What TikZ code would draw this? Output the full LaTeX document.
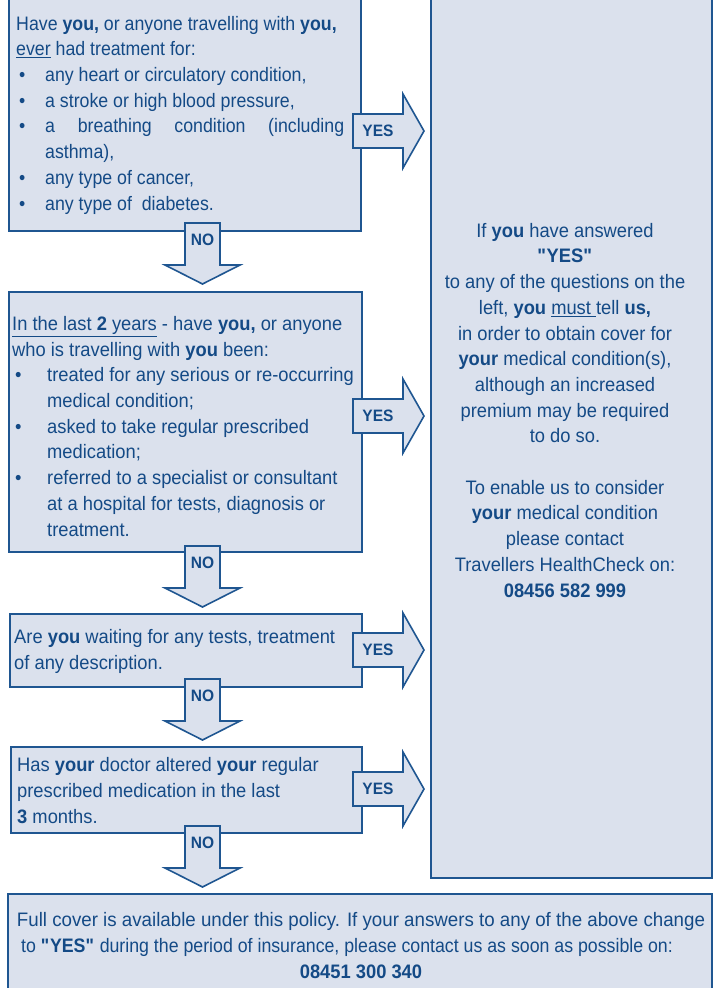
\documentclass[tikz,border=0pt]{standalone}
\usepackage{fontspec}
\setmainfont{Liberation Sans}[FakeStretch=0.94]
\newfontfamily\narrowfont{Liberation Sans}[FakeStretch=0.91]
\newfontfamily\widefont{Liberation Sans}[FakeStretch=0.96]
\usetikzlibrary{positioning}

\definecolor{boxfill}{RGB}{219,225,237}
\definecolor{boxline}{RGB}{31,86,145}
\definecolor{boxtext}{RGB}{20,74,134}

% bullet column of the lists
\newcommand{\bul}[1][29pt]{\makebox[#1][l]{\hspace{3pt}\textbullet}}

\begin{document}
\begin{tikzpicture}[x=1pt, y=-1pt,
    qbox/.style={draw=boxline, fill=boxfill, line width=1.6pt, anchor=north west, inner sep=0pt},
    qtext/.style={anchor=base west, align=left, inner sep=0pt, text=boxtext,
      font=\fontsize{19.5}{25.7}\selectfont},
    ctext/.style={qtext, anchor=base, align=center},
    blockarrow/.style={draw=boxline, fill=boxfill, line width=1.6pt, line join=miter},
    arrowtext/.style={text=boxtext, inner sep=0pt, font=\bfseries\fontsize{16.5}{16.5}\selectfont}]
  \useasboundingbox (0,0) rectangle (718,988);

  % the boxes
  \node[qbox, minimum width=352pt, minimum height=240pt] (q1) at (8,-10) {};
  \node[qbox, minimum width=353pt, minimum height=260pt] (q2) at (8,291) {};
  \node[qbox, minimum width=352pt, minimum height=73pt] (q3) at (9,613) {};
  \node[qbox, minimum width=351pt, minimum height=86pt] (q4) at (10,746) {};
  \node[qbox, minimum width=281pt, minimum height=887pt] (tellus) at (430,-10) {};
  \node[qbox, minimum width=704pt, minimum height=110pt] (cover) at (7,893) {};

  % texts, placed at the baseline of their last line
  \node[qtext, font=\narrowfont\fontsize{19.5}{25.7}\selectfont] (q1text) at (16,210)
    {Have \textbf{you,} or anyone travelling with \textbf{you,}\\
    \underline{ever} had treatment for:\\
    \bul any heart or circulatory condition,\\
    \bul a stroke or high blood pressure,\\
    \bul\makebox[299pt][s]{a breathing condition (including}\\
    \hspace*{29pt}asthma),\\
    \bul any type of cancer,\\
    \bul any type of\ \ diabetes.};

  \node[qtext] (q2text) at (12,536) {\underline{In the last \textbf{2} years} - have \textbf{you,} or anyone\\
    who is travelling with \textbf{you} been:\\
    \bul[35pt]treated for any serious or re-occurring\\
    \hspace*{35pt}medical condition;\\
    \bul[35pt]asked to take regular prescribed\\
    \hspace*{35pt}medication;\\
    \bul[35pt]referred to a specialist or consultant\\
    \hspace*{35pt}at a hospital for tests, diagnosis or\\
    \hspace*{35pt}treatment.};

  \node[qtext] (q3text) at (14,669) {Are \textbf{you} waiting for any tests, treatment\\
    of any description.};

  \node[qtext] (q4text) at (17,823) {Has \textbf{your} doctor altered \textbf{your} regular\\
    prescribed medication in the last\\
    \textbf{3} months.};

  \node[ctext] (tellustext) at (565,597) {If \textbf{you} have answered\\
    \textbf{\textquotedbl YES\textquotedbl}\\
    to any of the questions on the\\
    left, \textbf{you} \underline{must }tell \textbf{us,}\\
    in order to obtain cover for\\
    \textbf{your} medical condition(s),\\
    although an increased\\
    premium may be required\\
    to do so.\\[25.7pt]
    To enable us to consider\\
    \textbf{your} medical condition\\
    please contact\\
    Travellers HealthCheck on:\\
    \textbf{08456 582 999}};

  \node[ctext] (covertext) at (361,978) {{\widefont Full cover is available under this policy. If your answers to any of the above change}\\
    {\narrowfont to \textbf{\textquotedbl YES\textquotedbl} during the period of insurance, please contact us as soon as possible on:}\hspace*{28pt}\null\\
    \textbf{08451 300 340}};

  % YES arrows to the right
  \foreach \y/\n in {131/1, 416/2, 650/3, 789/4} {
    \draw[blockarrow] (353,\y-17) -- (403,\y-17) -- (403,\y-37) -- (424,\y)
      -- (403,\y+37) -- (403,\y+17) -- (353,\y+17) -- cycle;
    \node[arrowtext] (yes\n) at (378,\y) {YES};
  }

  % NO arrows down
  \foreach \t/\n in {223/1, 546/2, 679/3, 826/4} {
    \draw[blockarrow] (185,\t) -- (220,\t) -- (220,\t+42) -- (240,\t+42) -- (202.5,\t+61)
      -- (165,\t+42) -- (185,\t+42) -- cycle;
    \node[arrowtext] (no\n) at (202.5,\t+17) {NO};
  }
\end{tikzpicture}
\end{document}
